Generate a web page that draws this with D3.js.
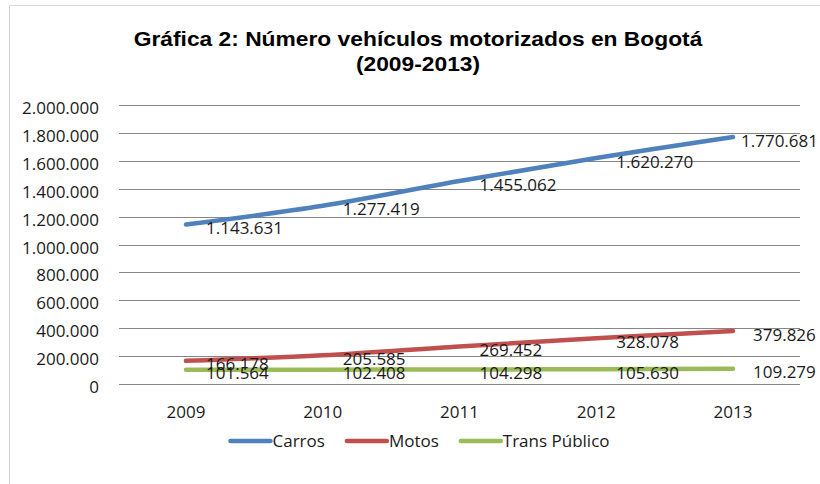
<!DOCTYPE html>
<html>
<head>
<meta charset="utf-8">
<script src="https://cdn.jsdelivr.net/npm/d3@7"></script>
<style>
  body { margin: 0; background: #fff; }
  svg { display: block; }
</style>
</head>
<body>
<div id="chart"></div>
<script>
const years = ["2009", "2010", "2011", "2012", "2013"];
const carros = [1143631, 1277419, 1455062, 1620270, 1770681];
const motos = [166178, 205585, 269452, 328078, 379826];
const transPublico = [101564, 102408, 104298, 105630, 109279];
const yTicks = [0, 200000, 400000, 600000, 800000, 1000000, 1200000, 1400000, 1600000, 1800000, 2000000];

const series = [
  { name: "Carros", values: carros, color: "#4F81BD" },
  { name: "Motos", values: motos, color: "#C0504D" },
  { name: "Trans Público", values: transPublico, color: "#9BBB59" }
];

const width = 820, height = 484;
const plotLeft = 119, plotRight = 800;
const labelFont = "'Open Sans', sans-serif";

const locale = d3.formatLocale({ decimal: ",", thousands: ".", grouping: [3], currency: ["$", ""] });
const fmt = locale.format(",d");

const svg = d3.select("#chart")
  .append("svg")
  .attr("width", width)
  .attr("height", height);

// frame (only left and top edges visible)
svg.append("line")
  .attr("x1", 9.5).attr("y1", 5.5).attr("x2", width).attr("y2", 5.5)
  .style("stroke", "#d9d9d9");
svg.append("line")
  .attr("x1", 9.5).attr("y1", 5.5).attr("x2", 9.5).attr("y2", height)
  .style("stroke", "#cfcfcf");

// title, a little stretched sideways like the source picture
const title = svg.append("g")
  .attr("transform", "translate(418,0) scale(1.14,1)");
title.append("text")
  .attr("x", 0)
  .attr("y", 46)
  .attr("text-anchor", "middle")
  .style("font-family", "'Liberation Sans', Arial, sans-serif")
  .style("font-weight", "bold")
  .style("font-size", "20px")
  .style("fill", "#000")
  .text("Gráfica 2: Número vehículos motorizados en Bogotá");
title.append("text")
  .attr("x", 0)
  .attr("y", 71)
  .attr("text-anchor", "middle")
  .style("font-family", "'Liberation Sans', Arial, sans-serif")
  .style("font-weight", "bold")
  .style("font-size", "20px")
  .style("fill", "#000")
  .text("(2009-2013)");

const x = d3.scalePoint()
  .domain(years)
  .range([186, 733]);

const y = d3.scaleLinear()
  .domain([0, 2000000])
  .range([384, 105]);

// gridlines
svg.append("g")
  .selectAll("line")
  .data(yTicks)
  .join("line")
  .attr("x1", plotLeft)
  .attr("x2", plotRight)
  .attr("y1", d => Math.round(y(d)) + 0.5)
  .attr("y2", d => Math.round(y(d)) + 0.5)
  .style("stroke", "#868686")
  .style("stroke-width", 1);

// y tick labels
svg.append("g")
  .selectAll("text")
  .data(yTicks)
  .join("text")
  .attr("x", 99)
  .attr("y", d => y(d) + 9)
  .attr("text-anchor", "end")
  .style("font-family", labelFont)
  .style("font-size", "17px")
  .style("fill", "#1a1a1a")
  .text(d => fmt(d));

// x tick labels
svg.append("g")
  .selectAll("text")
  .data(years)
  .join("text")
  .attr("x", d => x(d))
  .attr("y", 418)
  .attr("text-anchor", "middle")
  .style("font-family", labelFont)
  .style("font-size", "17px")
  .style("fill", "#1a1a1a")
  .text(d => d);

const line = d3.line()
  .x((d, i) => x(years[i]))
  .y(d => y(d))
  .curve(d3.curveCatmullRom.alpha(0.5));

// series lines
series.forEach(s => {
  svg.append("path")
    .datum(s.values)
    .attr("d", line)
    .style("fill", "none")
    .style("stroke", s.color)
    .style("stroke-width", 4.5)
    .style("stroke-linecap", "round")
    .style("stroke-linejoin", "round");
});

// data labels, to the right of each point, kept inside the picture
series.forEach(s => {
  svg.append("g")
    .selectAll("text")
    .data(s.values)
    .join("text")
    .attr("y", d => y(d) + 9.6)
    .style("font-family", labelFont)
    .style("font-size", "17px")
    .style("fill", "#1a1a1a")
    .text(d => fmt(d))
    .attr("x", function (d, i) {
      const w = this.getComputedTextLength();
      return Math.min(x(years[i]) + 20, 818 - w);
    });
});

// legend
const legend = svg.append("g");
let lx = 0;
series.forEach((s, i) => {
  const g = legend.append("g").attr("transform", `translate(${lx},0)`);
  g.append("line")
    .attr("x1", 0).attr("x2", 40)
    .attr("y1", 441).attr("y2", 441)
    .style("stroke", s.color)
    .style("stroke-width", 4.5)
    .style("stroke-linecap", "round");
  const t = g.append("text")
    .attr("x", 42)
    .attr("y", 447)
    .style("font-family", labelFont)
    .style("font-size", "17px")
    .style("fill", "#1a1a1a")
    .text(s.name);
  lx += 42 + t.node().getComputedTextLength() + 22;
});
const legendWidth = lx - 22;
legend.attr("transform", `translate(${420 - legendWidth / 2},0)`);
</script>
</body>
</html>
